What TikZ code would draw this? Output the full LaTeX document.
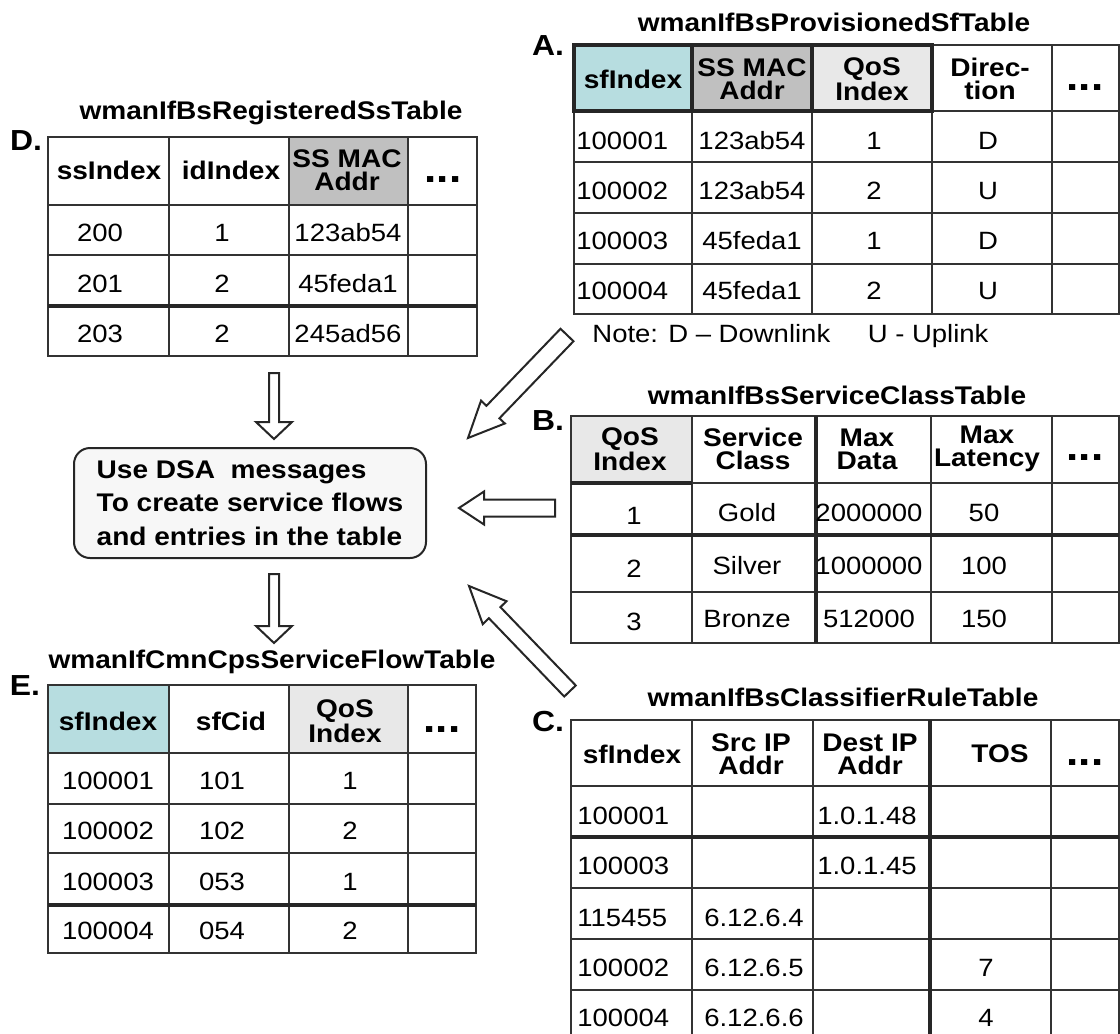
\documentclass[tikz,border=0pt]{standalone}
\usepackage{fontspec}
\setmainfont{Liberation Sans}[FakeStretch=1.1]
\usepackage{tikz}
\usetikzlibrary{calc}
\definecolor{sfcyan}{HTML}{B7DDE0}
\definecolor{macgray}{HTML}{C0C0C0}
\definecolor{qosgray}{HTML}{E8E8E8}
\definecolor{boxfill}{HTML}{F7F7F7}
% hollow block arrow: tail, tip, shaft half width, head half width, head length
\newcommand\hollowarrow[5]{%
  \coordinate (hb) at ($(#2)!#5!(#1)$);
  \draw[blockarr] ($(#1)!#3!90:(#2)$) -- ($(hb)!#3!90:(#2)$) -- ($(hb)!#4!90:(#2)$)
    -- (#2) -- ($(hb)!#4!-90:(#2)$) -- ($(hb)!#3!-90:(#2)$) -- ($(#1)!#3!-90:(#2)$) -- cycle;
}

\begin{document}
\begin{tikzpicture}[x=0.5pt,y=-0.5pt,
  ttl/.style={font=\bfseries\fontsize{12.75}{14}\selectfont,inner sep=0pt},
  lbl/.style={font=\bfseries\fontsize{14.5}{16}\selectfont,inner sep=0pt},
  hd/.style={font=\bfseries\fontsize{12.75}{11.5}\selectfont,align=center,inner sep=0pt},
  more/.style={font=\bfseries\fontsize{20}{20}\selectfont,inner sep=0pt},
  dat/.style={font=\fontsize{12.5}{14}\selectfont,inner sep=0pt,text height=9pt,text depth=0pt},
  grid/.style={draw=black!80,line width=1pt},
  heavy/.style={draw=black!85,line width=1.6pt},
  msgbox/.style={draw=black!85,line width=1pt,fill=boxfill,rounded corners=8pt,
    minimum width=176pt,minimum height=55pt,align=left,
    font=\bfseries\fontsize{12.75}{16.75}\selectfont},
  blockarr/.style={draw=black!85,line width=1pt,fill=white,line join=miter}]
  \useasboundingbox (0,0) rectangle (1120,1034);

  % A: provisioned service flows
  \node[ttl] (ttlA) at (834,22) {wmanIfBsProvisionedSfTable};
  \node[lbl] (lblA) at (548,46) {A.};
  \fill[sfcyan] (574,45) rectangle (692,111);
  \fill[macgray] (692,45) rectangle (812,111);
  \fill[qosgray] (812,45) rectangle (932,111);
  \draw[grid] (574,45) rectangle (1119,314);
  \foreach \x in {692,812,932,1052} \draw[grid] (\x,45) -- (\x,314);
  \foreach \y in {111,162,213,264} \draw[grid] (574,\y) -- (1119,\y);
  \draw[heavy] (574,45) rectangle (932,111) (692,45) -- (692,111) (812,45) -- (812,111);
  \foreach \t/\x [count=\i] in {sfIndex/633,{SS MAC\\Addr}/752,{QoS\\Index}/872,{Direc-\\tion}/990}
    \node[hd] (A-h\i) at (\x,79) {\t};
  \node[more] (A-h5) at (1085,88) {...};
  \foreach \y/\a/\b/\c/\d [count=\r] in {140/100001/123ab54/1/D,190/100002/123ab54/2/U,
      240/100003/45feda1/1/D,290/100004/45feda1/2/U}{
    \node[dat,anchor=west] (A-\r-1) at (576,\y) {\a};
    \node[dat] (A-\r-2) at (752,\y) {\b};
    \node[dat] (A-\r-3) at (874,\y) {\c};
    \node[dat] (A-\r-4) at (988,\y) {\d};
  }
  \node[dat,anchor=west] (note) at (592,333) {Note: D – Downlink\hspace{1.5em}U - Uplink};

  % B: service classes
  \node[ttl] (ttlB) at (837,395) {wmanIfBsServiceClassTable};
  \node[lbl] (lblB) at (548,421) {B.};
  \fill[qosgray] (571,416) rectangle (692,483);
  \draw[grid] (571,416) rectangle (1119,643);
  \foreach \x in {692,816,931,1052} \draw[grid] (\x,416) -- (\x,643);
  \foreach \y in {483,535,592} \draw[grid] (571,\y) -- (1119,\y);
  \draw[heavy] (571,483) -- (692,483) (571,535) -- (1119,535) (816,416) -- (816,643);
  \foreach \t/\x [count=\i] in {{QoS\\Index}/630,{Service\\Class}/753,{Max\\Data}/867,{Max\\Latency}/987}
    \node[hd] (B-h\i) at (\x,449) {\t};
  \node[more] (B-h5) at (1085,458) {...};
  \foreach \y/\a/\b/\c/\d [count=\r] in {512/1/Gold/2000000/50,565/2/Silver/1000000/100,
      618/3/Bronze/512000/150}{
    \node[dat] (B-\r-1) at (634,\y+3) {\a};
    \node[dat] (B-\r-2) at (747,\y) {\b};
    \node[dat] (B-\r-3) at (869,\y) {\c};
    \node[dat] (B-\r-4) at (984,\y) {\d};
  }

  % C: classifier rules
  \node[ttl] (ttlC) at (843,697) {wmanIfBsClassifierRuleTable};
  \node[lbl] (lblC) at (548,722) {C.};
  \draw[grid] (571,720) rectangle (1119,1041);
  \foreach \x in {692,813,930,1051} \draw[grid] (\x,720) -- (\x,1041);
  \foreach \y in {786,837,888,939,990} \draw[grid] (571,\y) -- (1119,\y);
  \draw[heavy] (571,837) -- (1119,837) (930,720) -- (930,1041);
  \foreach \t/\x [count=\i] in {sfIndex/632,{Src IP\\Addr}/751,{Dest IP\\Addr}/870,TOS/1000}
    \node[hd] (C-h\i) at (\x,754) {\t};
  \node[more] (C-h5) at (1085,763) {...};
  \foreach \y/\a/\b/\c/\d [count=\r] in {815/100001/{}/1.0.1.48/{},865/100003/{}/1.0.1.45/{},
      917/115455/6.12.6.4/{}/{},967/100002/6.12.6.5/{}/7,1017/100004/6.12.6.6/{}/4}{
    \node[dat,anchor=west] (C-\r-1) at (577,\y) {\a};
    \node[dat] (C-\r-2) at (754,\y) {\b};
    \node[dat] (C-\r-3) at (867,\y) {\c};
    \node[dat] (C-\r-4) at (986,\y) {\d};
  }

  % D: registered subscriber stations
  \node[ttl] (ttlD) at (271,113) {wmanIfBsRegisteredSsTable};
  \node[lbl] (lblD) at (26,141) {D.};
  \fill[macgray] (289,137) rectangle (408,205);
  \draw[grid] (48,137) rectangle (477,356);
  \foreach \x in {169,289,408} \draw[grid] (\x,137) -- (\x,356);
  \foreach \y in {205,255,306} \draw[grid] (48,\y) -- (477,\y);
  \draw[heavy] (48,306) -- (477,306);
  \foreach \t/\x [count=\i] in {ssIndex/109,idIndex/231,{SS MAC\\Addr}/347}
    \node[hd] (D-h\i) at (\x,170) {\t};
  \node[more] (D-h4) at (443,180) {...};
  \foreach \y/\a/\b/\c [count=\r] in {232/200/1/123ab54,283/201/2/45feda1,333/203/2/245ad56}{
    \node[dat] (D-\r-1) at (100,\y) {\a};
    \node[dat] (D-\r-2) at (222,\y) {\b};
    \node[dat] (D-\r-3) at (348,\y) {\c};
  }

  % E: service flows created
  \node[ttl] (ttlE) at (272,662) {wmanIfCmnCpsServiceFlowTable};
  \node[lbl] (lblE) at (25,686) {E.};
  \fill[sfcyan] (48,685) rectangle (169,753);
  \fill[qosgray] (289,685) rectangle (408,753);
  \draw[grid] (48,685) rectangle (476,953);
  \foreach \x in {169,289,408} \draw[grid] (\x,685) -- (\x,953);
  \foreach \y in {753,804,853,905} \draw[grid] (48,\y) -- (476,\y);
  \draw[heavy] (48,905) -- (476,905);
  \foreach \t/\x [count=\i] in {sfIndex/108,sfCid/231,{QoS\\Index}/345}
    \node[hd] (E-h\i) at (\x,721) {\t};
  \node[more] (E-h4) at (442,730) {...};
  \foreach \y/\a/\b/\c [count=\r] in {780/100001/101/1,830/100002/102/2,881/100003/053/1,930/100004/054/2}{
    \node[dat] (E-\r-1) at (108,\y) {\a};
    \node[dat] (E-\r-2) at (222,\y) {\b};
    \node[dat] (E-\r-3) at (350,\y) {\c};
  }

  % centre box and the block arrows
  \node[msgbox] (dsa) at (250,503) {Use DSA\ \ messages\\To create service flows\\and entries in the table};
  \coordinate (fromA) at (567,335);  \coordinate (toA) at (468,438);
  \coordinate (fromB) at (555,508);  \coordinate (toB) at (459,508);
  \coordinate (fromC) at (570,691);  \coordinate (toC) at (469,586);
  \coordinate (fromD) at (274,373);  \coordinate (toD) at (274,439);
  \coordinate (fromBox) at (274,574); \coordinate (toE) at (274,643);
  \hollowarrow{fromA}{toA}{4.5pt}{8.25pt}{18pt}
  \hollowarrow{fromB}{toB}{4.25pt}{8.25pt}{12.5pt}
  \hollowarrow{fromC}{toC}{4pt}{8.25pt}{18.5pt}
  \hollowarrow{fromD}{toD}{2.5pt}{9pt}{8.5pt}
  \hollowarrow{fromBox}{toE}{2.5pt}{9pt}{8.5pt}
\end{tikzpicture}
\end{document}
